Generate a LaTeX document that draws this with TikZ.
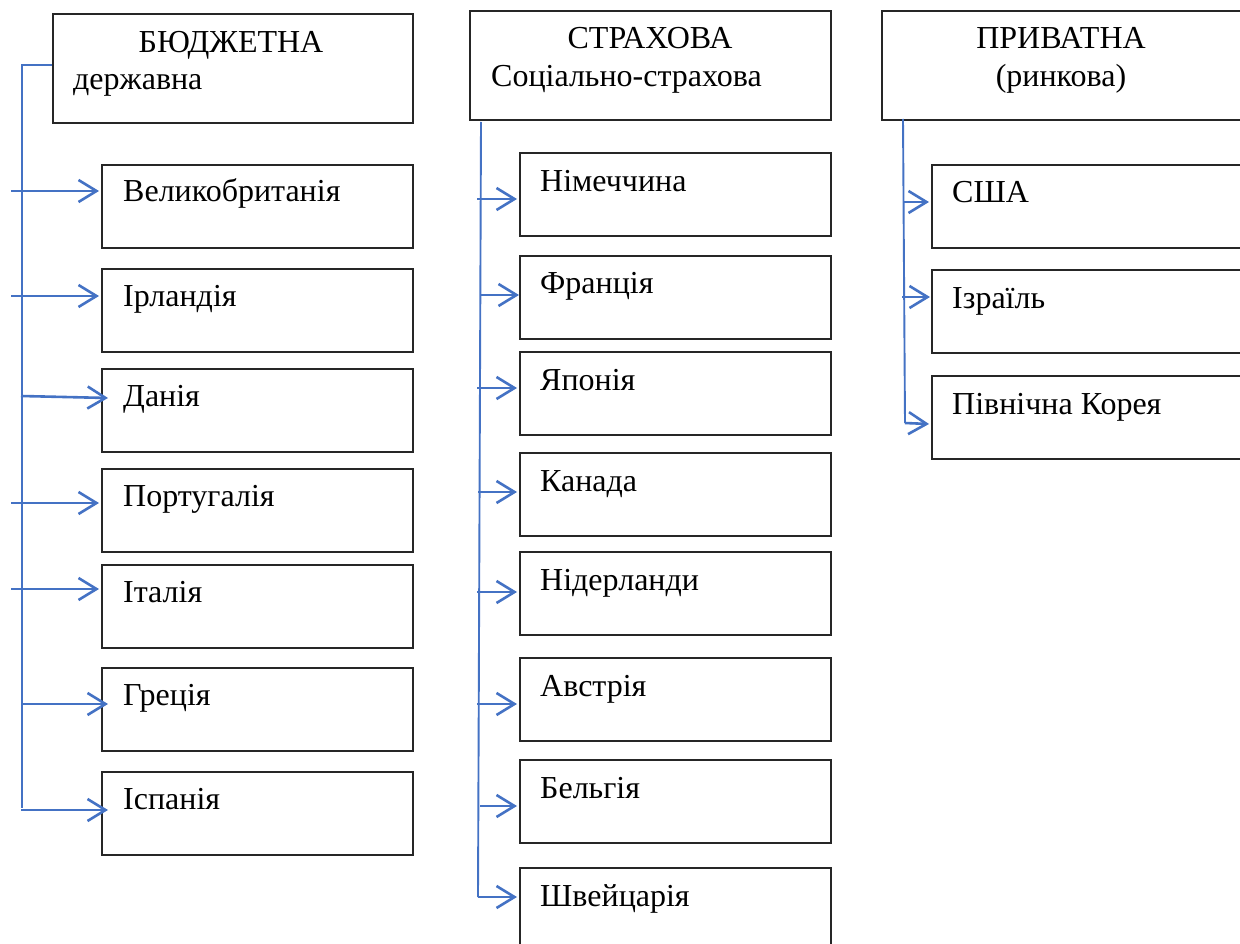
\documentclass[tikz,border=0pt]{standalone}
\usepackage{fontspec}
\setmainfont{Liberation Serif}
\usetikzlibrary{arrows.meta}
\definecolor{blueline}{RGB}{68,114,196}
\begin{document}
\begin{tikzpicture}[x=1pt,y=-1pt,
  box/.style={draw=black!85,line width=1.6pt,rectangle,inner sep=0pt,anchor=north west,minimum width=311pt,minimum height=83pt},
  headbox/.style={draw=black!85,line width=1.6pt,rectangle,inner sep=0pt,anchor=north west,minimum height=109pt},
  lbl/.style={anchor=base west,inner sep=0pt,font=\fontsize{32}{38}\selectfont},
  ttl/.style={anchor=base,inner sep=0pt,font=\fontsize{32}{38}\selectfont},
  conn/.style={draw=blueline,line width=1.9pt},
  arr/.style={draw=blueline,line width=2.6pt,-{Straight Barb[length=18pt,width=22pt]}}
]
\useasboundingbox (0,0) rectangle (1240,944);
\clip (0,0) rectangle (1240,944);

% ---------- left column ----------
\node[headbox,minimum width=360pt] (h1) at (52,13) {};
\node[ttl] (h1a) at (231,53) {БЮДЖЕТНА};
\node[lbl] (h1b) at (73,90) {державна};

\node[box] (gb) at (101,164) {};
\node[box] (ir) at (101,268) {};
\node[box] (dk) at (101,368) {};
\node[box] (pt) at (101,468) {};
\node[box] (itl) at (101,564) {};
\node[box] (gr) at (101,667) {};
\node[box] (es) at (101,771) {};
\node[lbl] (tgb) at (123,202) {Великобританія};
\node[lbl] (tir) at (123,306) {Ірландія};
\node[lbl] (tdk) at (123,406) {Данія};
\node[lbl] (tpt) at (123,506) {Португалія};
\node[lbl] (titl) at (123,602) {Італія};
\node[lbl] (tgr) at (123,705) {Греція};
\node[lbl] (tes) at (123,809) {Іспанія};

\coordinate (l0) at (22,65);
\coordinate (l1) at (22,808);
\draw[conn] (h1.west |- l0) -- (l0) -- (l1);
\coordinate (a1) at (11,191);
\coordinate (a2) at (11,296);
\coordinate (a3) at (21,396);
\coordinate (a4) at (11,503);
\coordinate (a5) at (11,589);
\coordinate (a6) at (21,704);
\coordinate (a7) at (21,810);
\draw[arr] (a1) -- ([xshift=-2pt]gb.west |- a1);
\draw[arr] (a2) -- ([xshift=-2pt]ir.west |- a2);
\draw[arr] (a3) -- ([xshift=7pt,yshift=-2pt]dk.west |- a3);
\draw[arr] (a4) -- ([xshift=-2pt]pt.west |- a4);
\draw[arr] (a5) -- ([xshift=-2pt]itl.west |- a5);
\draw[arr] (a6) -- ([xshift=7pt]gr.west |- a6);
\draw[arr] (a7) -- ([xshift=7pt]es.west |- a7);

% ---------- middle column ----------
\node[headbox,minimum width=361pt] (h2) at (469,10) {};
\node[ttl] (h2a) at (650,49) {СТРАХОВА};
\node[lbl] (h2b) at (491,87) {Соціально-страхова};

\node[box] (de) at (519,152) {};
\node[box] (fr) at (519,255) {};
\node[box] (jp) at (519,351) {};
\node[box] (ca) at (519,452) {};
\node[box] (nl) at (519,551) {};
\node[box] (at) at (519,657) {};
\node[box] (be) at (519,759) {};
\node[box] (ch) at (519,867) {};
\node[lbl] (tde) at (540,192) {Німеччина};
\node[lbl] (tfr) at (540,294) {Франція};
\node[lbl] (tjp) at (540,390) {Японія};
\node[lbl] (tca) at (540,491) {Канада};
\node[lbl] (tnl) at (540,590) {Нідерланди};
\node[lbl] (tat) at (540,696) {Австрія};
\node[lbl] (tbe) at (540,798) {Бельгія};
\node[lbl] (tch) at (540,906) {Швейцарія};

\coordinate (m0) at (481,122);
\coordinate (m1) at (478,897);
\draw[conn] (m0) -- (m1);
\coordinate (b1) at (477,199);
\coordinate (b2) at (481,295);
\coordinate (b3) at (477,388);
\coordinate (b4) at (478,492);
\coordinate (b5) at (477,592);
\coordinate (b6) at (477,704);
\coordinate (b7) at (480,806);
\draw[arr] (b1) -- ([xshift=-2pt]de.west |- b1);
\draw[arr] (b2) -- (fr.west |- b2);
\draw[arr] (b3) -- ([xshift=-2pt]jp.west |- b3);
\draw[arr] (b4) -- ([xshift=-2pt]ca.west |- b4);
\draw[arr] (b5) -- ([xshift=-2pt]nl.west |- b5);
\draw[arr] (b6) -- ([xshift=-2pt]at.west |- b6);
\draw[arr] (b7) -- ([xshift=-2pt]be.west |- b7);
\draw[arr] (m1) -- ([xshift=-2pt]ch.west |- m1);

% ---------- right column ----------
\node[headbox,minimum width=380pt] (h3) at (881,10) {};
\node[ttl] (h3a) at (1061,49) {ПРИВАТНА};
\node[ttl] (h3b) at (1061,87) {(ринкова)};

\node[box,minimum width=330pt] (us) at (931,164) {};
\node[box,minimum width=330pt] (il) at (931,269) {};
\node[box,minimum width=330pt] (kp) at (931,375) {};
\node[lbl] (tus) at (952,203) {США};
\node[lbl] (til) at (952,308) {Ізраїль};
\node[lbl] (tkp) at (952,414) {Північна Корея};

\coordinate (r0) at (903,119);
\coordinate (r1) at (905,423);
\draw[conn] (r0) -- (r1);
\coordinate (c1) at (904,202);
\coordinate (c2) at (902,297);
\draw[arr] (c1) -- ([xshift=-2pt]us.west |- c1);
\draw[arr] (c2) -- ([xshift=-1pt]il.west |- c2);
\draw[arr] (r1) -- ([xshift=-2pt,yshift=-1pt]kp.west |- r1);
\end{tikzpicture}
\end{document}
